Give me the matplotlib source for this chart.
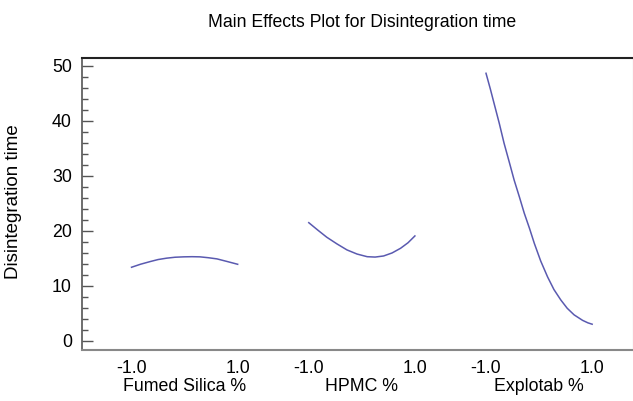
import matplotlib.pyplot as plt
import numpy as np
from matplotlib.ticker import MultipleLocator
import matplotlib.transforms as mtransforms

plt.rcParams['font.family'] = ['Liberation Sans', 'DejaVu Sans']

# Factors and the curves (coded level, response)
factors = ['Fumed Silica %', 'HPMC %', 'Explotab %']

silica_lvl = [-1.0, -0.83, -0.65, -0.5, -0.34, -0.18, -0.02, 0.14, 0.29, 0.45, 0.61, 0.8, 1.0]
silica_y = [13.35, 13.9, 14.38, 14.75, 15.0, 15.17, 15.24, 15.27, 15.24, 15.08, 14.87, 14.4, 13.89]

hpmc_lvl = [-1.0, -0.83, -0.66, -0.47, -0.28, -0.09, 0.1, 0.25, 0.41, 0.57, 0.73, 0.87, 1.0]
hpmc_y = [21.45, 20.1, 18.8, 17.6, 16.5, 15.75, 15.27, 15.2, 15.4, 15.95, 16.8, 17.8, 19.04]

explo_lvl = [-1.0, -0.92, -0.85, -0.75, -0.66, -0.56, -0.47, -0.37, -0.28, -0.18,
             -0.09, 0.03, 0.16, 0.28, 0.41, 0.53, 0.66, 0.82, 0.92, 1.0]
explo_y = [48.6, 45.8, 43.2, 39.5, 35.9, 32.4, 29.2, 26.1, 23.2, 20.4,
           17.7, 14.5, 11.6, 9.3, 7.4, 5.9, 4.7, 3.7, 3.25, 3.0]

level_ticks = [-1.0, 1.0]
level_labels = ['-1.0', '1.0']

curves = [(silica_lvl, silica_y), (hpmc_lvl, hpmc_y), (explo_lvl, explo_y)]
spacing = 3.34  # distance between factor panels in level units

fig = plt.figure(figsize=(6.33, 4.01), dpi=100)
ax = fig.add_axes([0.129, 0.127, 0.871, 0.728])

line_color = '#5a5ab0'
tick_pos, tick_lab = [], []
for i, (lvl, y) in enumerate(curves):
    off = i * spacing
    ax.plot(np.array(lvl) + off, y, color=line_color, lw=1.1,
            solid_joinstyle='round')
    tick_pos += [t + off for t in level_ticks]
    tick_lab += level_labels

ax.set_xlim(-1.94, 8.45)
ax.set_ylim(-1.7, 51.35)

ax.set_xticks(tick_pos)
ax.set_xticklabels(tick_lab, fontsize=12.8)
ax.tick_params(axis='x', length=0, pad=7)

ax.yaxis.set_major_locator(MultipleLocator(10))
ax.yaxis.set_minor_locator(MultipleLocator(2))
ax.tick_params(axis='y', which='major', direction='in', length=8, width=1.0,
               color='#555555', labelsize=12.8, pad=7)
ax.tick_params(axis='y', which='minor', direction='in', length=4.3, width=1.0,
               color='#555555')

trans = mtransforms.blended_transform_factory(ax.transData, ax.transAxes)
for i, name in enumerate(factors):
    ax.text(i * spacing, -0.126, name, transform=trans, ha='center',
            va='center', fontsize=12.8)

ax.set_ylabel('Disintegration time', fontsize=13.5)
ax.yaxis.set_label_coords(-0.109, 0.507)

ax.spines['top'].set_color('#222222')
ax.spines['top'].set_linewidth(1.5)
ax.spines['left'].set_color('#555555')
ax.spines['left'].set_linewidth(1.2)
ax.spines['bottom'].set_color('#888888')
ax.spines['bottom'].set_linewidth(1.5)
ax.spines['right'].set_color('#aaaaaa')

fig.text(0.572, 0.943, 'Main Effects Plot for Disintegration time',
         ha='center', va='center', fontsize=12.7)

fig.savefig('out.png', dpi=100)
